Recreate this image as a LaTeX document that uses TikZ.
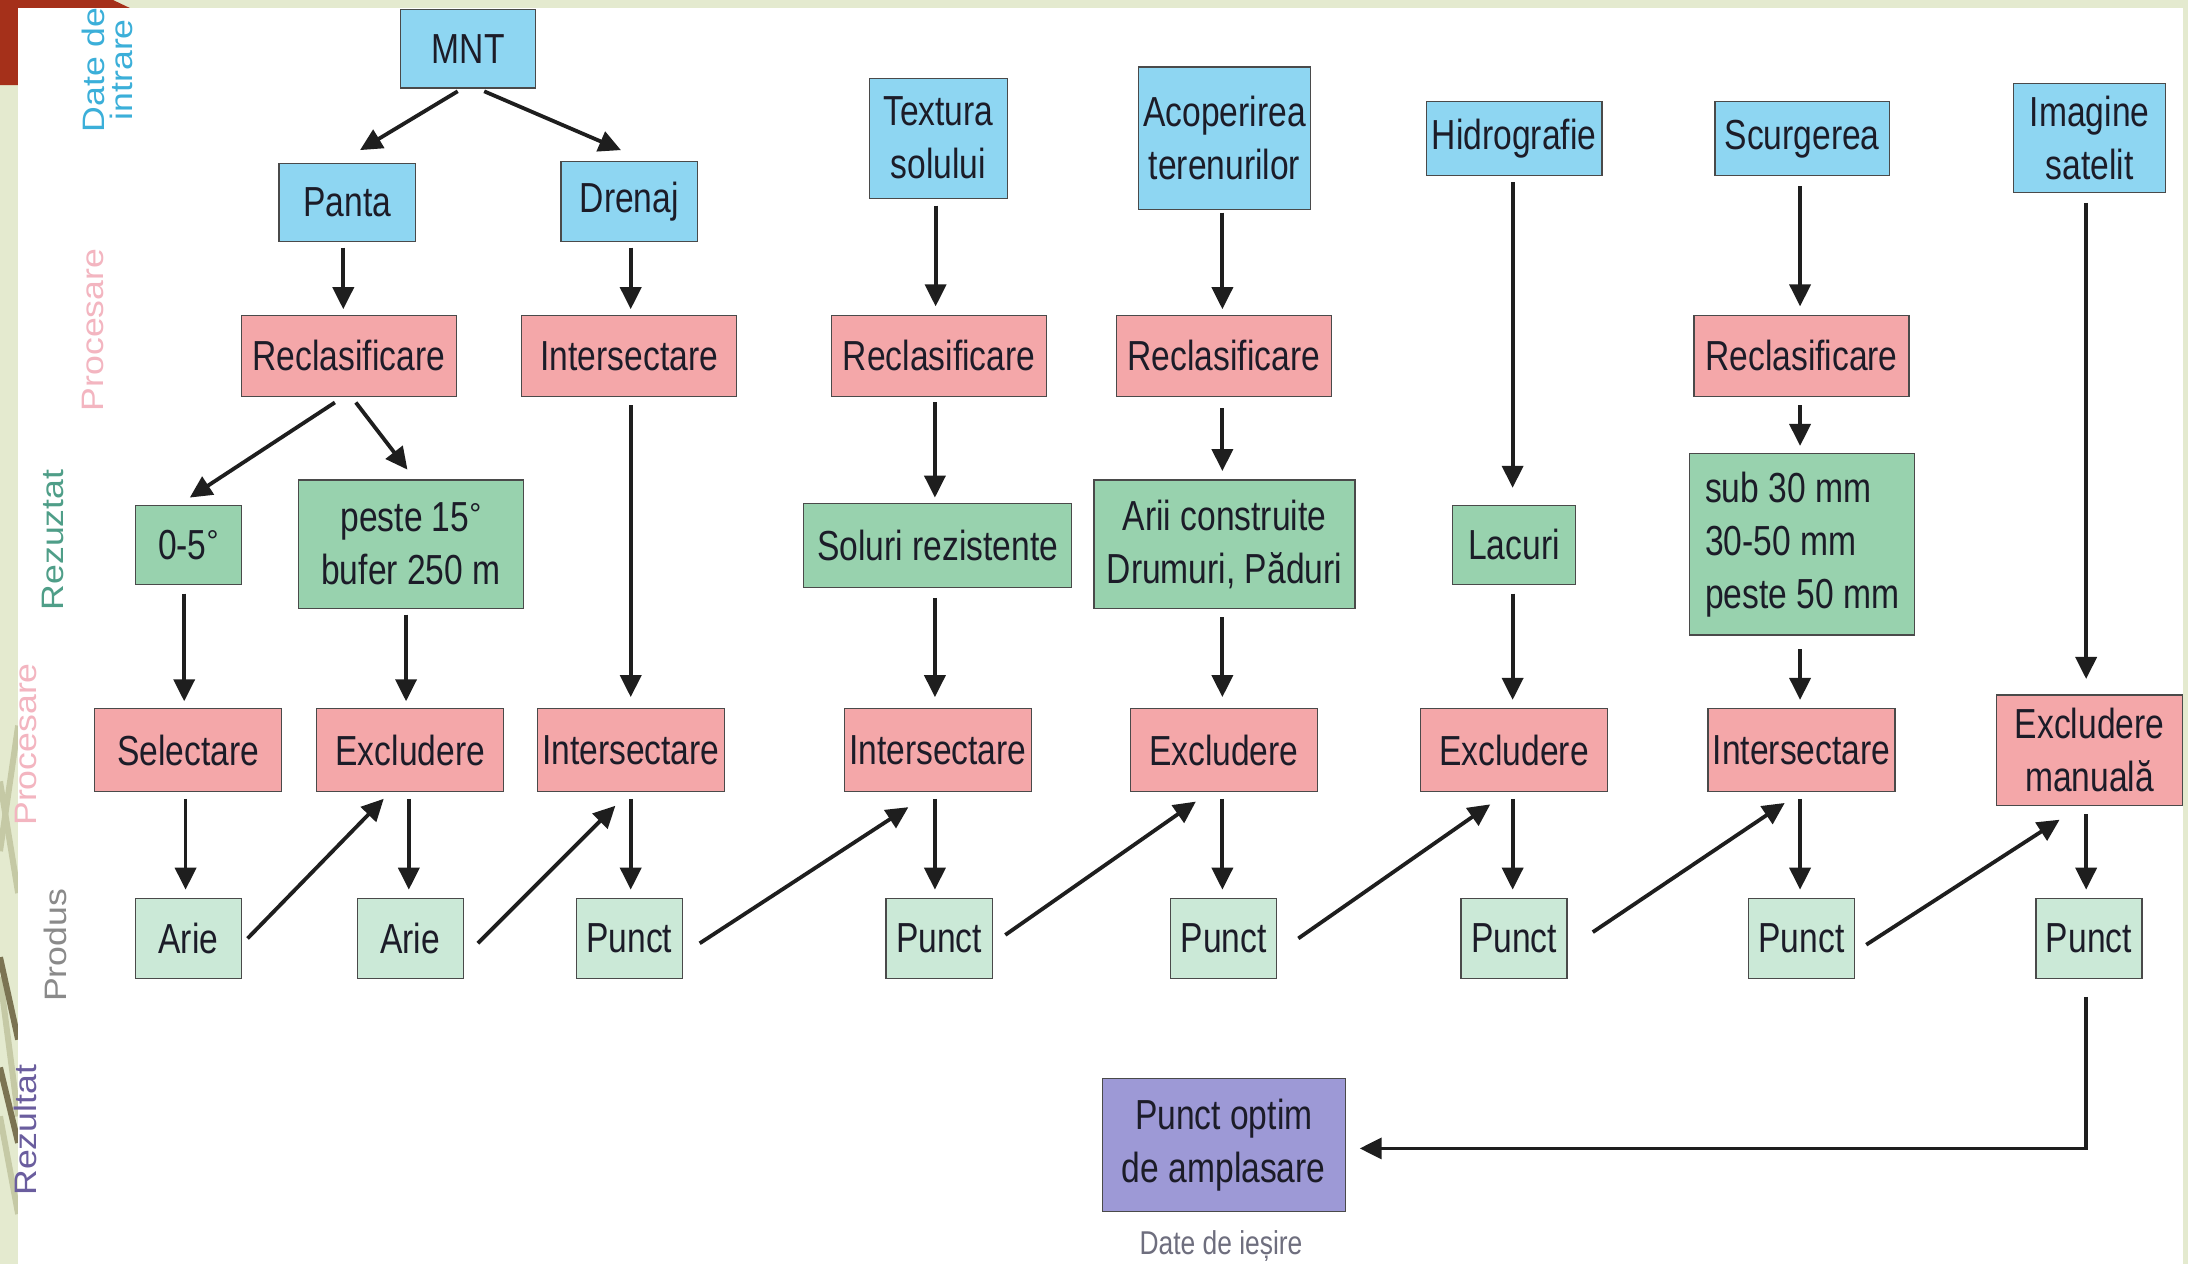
\documentclass[tikz,border=0pt]{standalone}
\usepackage{fontspec}
\setmainfont[FakeStretch=0.8]{Liberation Sans}
\newfontfamily\lblfont[FakeStretch=1.15]{Liberation Sans}
\newfontfamily\degfont{Liberation Sans}
\usetikzlibrary{arrows.meta,calc}
\definecolor{bgc}{HTML}{E4EACF}
\definecolor{redc}{HTML}{A5301A}
\definecolor{cblue}{HTML}{8ED6F2}
\definecolor{cpink}{HTML}{F4A7A9}
\definecolor{cgreen}{HTML}{98D2AE}
\definecolor{clight}{HTML}{CBE9D7}
\definecolor{cpurple}{HTML}{9D99D6}
\definecolor{txt}{HTML}{1C1C28}
\definecolor{boxline}{HTML}{4A4A4A}
\definecolor{arrc}{HTML}{1E1E1E}
\definecolor{lblue}{HTML}{3BAFD9}
\definecolor{lpink}{HTML}{F3B5C0}
\definecolor{lteal}{HTML}{4F9E88}
\definecolor{lgray}{HTML}{8A8A8A}
\definecolor{lpurple}{HTML}{6A5D9E}
\definecolor{outgray}{HTML}{6E6E7E}
\definecolor{decdark}{HTML}{7B7352}
\definecolor{declight}{HTML}{C5C9A5}
\newcommand\bx[7]{\node[#1,minimum width={(#5-#3)*0.6977pt},minimum height={(#6-#4)*0.6977pt}] (#2) at ({(#3+#5)/2},{(#4+#6)/2}) {#7};}
% vertical arrow from bottom of #1 to top of #2; #3 x offset, #4 start gap, #5 end gap
\newcommand\varr[5]{\draw[arr] let \p1=($(#1.south)+(#3,#4)$), \p2=($(#2.north)+(0,-#5)$) in (\p1) -- (\x1,\y2);}
\newcommand\degsup{\raisebox{0.35ex}{\degfont\fontsize{15}{15}\selectfont °}}
\begin{document}
\begin{tikzpicture}[x=0.6977pt,y=-0.6977pt,
  box/.style={draw=boxline,line width=0.6pt,inner sep=0pt,align=center,text=txt,font=\fontsize{21}{26.5}\selectfont},
  inbox/.style={box,fill=cblue},
  procbox/.style={box,fill=cpink},
  resbox/.style={box,fill=cgreen},
  prodbox/.style={box,fill=clight},
  outbox/.style={box,fill=cpurple},
  arr/.style={line width=1.9pt,draw=arrc,-{Triangle[length=11pt,width=10.5pt]}},
  lbl/.style={rotate=90,anchor=base,font=\lblfont\fontsize{15.5}{14.3}\selectfont}]
% background
\useasboundingbox (0,0) rectangle (1568,906);
\fill[bgc] (0,0) rectangle (1568,906);
\fill[redc] (0,0) -- (81,0) -- (93,5.7) -- (12.9,5.7) -- (12.9,61) -- (0,61) -- cycle;
\begin{scope}
\clip (0,61) rectangle (12.9,906);
\draw[declight,line width=3pt] (13,520) -- (0,610);
\draw[declight,line width=3pt] (0,560) -- (13,640);
\draw[declight,line width=3pt] (0,700) -- (13,800);
\draw[declight,line width=3pt] (0,800) -- (13,870);
\draw[decdark,line width=3pt] (0,686) -- (13,745);
\draw[decdark,line width=3pt] (0,765) -- (13,819);
\end{scope}
\fill[white] (12.9,5.7) rectangle (1564.5,906);
% side labels
\node[lbl,anchor=center,align=center,text=lblue] (ldate) at (77,50) {Date de\\intrare};
\node[lbl,text=lpink] (lproc1) at (74,236.5) {Procesare};
\node[lbl,text=lteal] (lrez1) at (45.5,387) {Rezuztat};
\node[lbl,text=lpink] (lproc2) at (26.5,533.5) {Procesare};
\node[lbl,text=lgray] (lprod) at (47.8,677.5) {Produs};
\node[lbl,text=lpurple] (lrez2) at (26.3,810) {Rezultat};
% row 1: inputs
\bx{inbox}{mnt}{287}{7}{384}{63}{MNT}
\bx{inbox}{panta}{200}{117}{298}{173}{Panta}
\bx{inbox}{drenaj}{402}{116}{500}{173}{Drenaj}
\bx{inbox}{textura}{623}{56}{722}{142}{Textura\\solului}
\bx{inbox}{acop}{816}{48}{939}{150}{Acoperirea\\terenurilor}
\bx{inbox}{hidro}{1022}{73}{1148}{126}{Hidrografie}
\bx{inbox}{scurg}{1229}{73}{1354}{126}{Scurgerea}
\bx{inbox}{imag}{1443}{60}{1552}{138}{Imagine\\satelit}
% row 2: processing
\bx{procbox}{rec1}{173}{226}{327}{284}{Reclasificare}
\bx{procbox}{int1}{374}{226}{528}{284}{Intersectare}
\bx{procbox}{rec2}{596}{226}{750}{284}{Reclasificare}
\bx{procbox}{rec3}{800}{226}{954}{284}{Reclasificare}
\bx{procbox}{rec4}{1214}{226}{1368}{284}{Reclasificare}
% row 3: results
\bx{resbox}{r05}{97}{362}{173}{419}{0-5\degsup}
\bx{resbox}{p15}{214}{344}{375}{436}{peste 15\degsup\\bufer 250 m}
\bx{resbox}{soluri}{576}{361}{768}{421}{Soluri rezistente}
\bx{resbox}{arii}{784}{344}{971}{436}{Arii construite\\Drumuri, Păduri}
\bx{resbox}{lacuri}{1041}{362}{1129}{419}{Lacuri}
\bx{resbox,align=left}{sub}{1211}{325}{1372}{455}{sub 30 mm\\30-50 mm\\peste 50 mm}
% row 4: processing
\bx{procbox}{sel}{68}{508}{202}{567}{Selectare}
\bx{procbox}{exc1}{227}{508}{361}{567}{Excludere}
\bx{procbox}{int2}{385}{508}{519}{567}{Intersectare}
\bx{procbox}{int3}{605}{508}{739}{567}{Intersectare}
\bx{procbox}{exc2}{810}{508}{944}{567}{Excludere}
\bx{procbox}{exc3}{1018}{508}{1152}{567}{Excludere}
\bx{procbox}{int4}{1224}{508}{1358}{567}{Intersectare}
\bx{procbox}{exm}{1431}{498}{1564}{577}{Excludere\\manuală}
% row 5: products
\bx{prodbox}{a1}{97}{644}{173}{701}{Arie}
\bx{prodbox}{a2}{256}{644}{332}{701}{Arie}
\bx{prodbox}{pt1}{413}{644}{489}{701}{Punct}
\bx{prodbox}{pt2}{635}{644}{711}{701}{Punct}
\bx{prodbox}{pt3}{839}{644}{915}{701}{Punct}
\bx{prodbox}{pt4}{1047}{644}{1123}{701}{Punct}
\bx{prodbox}{pt5}{1253}{644}{1329}{701}{Punct}
\bx{prodbox}{pt6}{1459}{644}{1535}{701}{Punct}
% result
\bx{outbox}{res}{790}{773}{964}{868}{Punct optim\\de amplasare}
\node[font=\fontsize{16.5}{18}\selectfont,text=outgray] (dout) at (875,893) {Date de ieșire};
% arrows: top
\draw[arr] ($(mnt.south)+(-7.5,2)$) -- ($(panta.north)+(9,-9)$);
\draw[arr] ($(mnt.south)+(11.5,2)$) -- ($(drenaj.north)+(-6,-8)$);
\varr{panta}{rec1}{-3}{4}{4}
\varr{drenaj}{int1}{1}{4}{4}
\varr{textura}{rec2}{-2}{5}{6}
\varr{acop}{rec3}{-1.5}{2}{4}
\varr{hidro}{lacuri}{-1}{4}{12}
\varr{scurg}{rec4}{-1.5}{7}{6}
\varr{imag}{exm}{-2.5}{7}{11}
% arrows: row 2 -> row 3
\draw[arr] ($(rec1.south)+(-10,4)$) -- ($(r05.north)+(1,-5)$);
\draw[arr] ($(rec1.south)+(5,4)$) -- ($(p15.north)+(-2.5,-7)$);
\varr{int1}{int2}{1}{6}{8}
\varr{rec2}{soluri}{-3}{4}{4}
\varr{rec3}{arii}{-1}{8}{6}
\varr{rec4}{sub}{-1}{6}{5}
% arrows: row 3 -> row 4
\varr{r05}{sel}{-3}{6}{5}
\varr{p15}{exc1}{-3.5}{4}{5}
\varr{soluri}{int3}{-2}{7}{8}
\varr{arii}{exc2}{-1.5}{6}{8}
\varr{lacuri}{exc3}{-1}{6}{6}
\varr{sub}{int4}{-1.5}{10}{6}
% arrows: row 4 -> row 5
\varr{sel}{a1}{-2}{5}{6}
\varr{exc1}{a2}{-1}{5}{6}
\varr{int2}{pt1}{0}{5}{6}
\varr{int3}{pt2}{-2}{5}{6}
\varr{exc2}{pt3}{-1}{5}{6}
\varr{exc3}{pt4}{-1}{5}{6}
\varr{int4}{pt5}{-1}{5}{6}
\varr{exm}{pt6}{-2.5}{6}{6}
% diagonal arrows: row 5 -> row 4
\draw[arr] ($(a1.east)+(4,0)$) -- ($(exc1.south)+(-19,5)$);
\draw[arr] ($(a2.east)+(10,3.5)$) -- ($(int2.south)+(-11,10)$);
\draw[arr] ($(pt1.east)+(12,3.5)$) -- ($(int3.south)+(-21,11)$);
\draw[arr] ($(pt2.east)+(9,-2.5)$) -- ($(exc2.south)+(-20,7)$);
\draw[arr] ($(pt3.east)+(15,0)$) -- ($(exc3.south)+(-17,9)$);
\draw[arr] ($(pt4.east)+(18,-4.5)$) -- ($(int4.south)+(-12,8)$);
\draw[arr] ($(pt5.east)+(8,4.5)$) -- ($(exm.south)+(-21.5,10)$);
% final
\draw[arr] ($(pt6.south)+(-2,13)$) |- ($(res.east)+(10,2.5)$);
\end{tikzpicture}
\end{document}
